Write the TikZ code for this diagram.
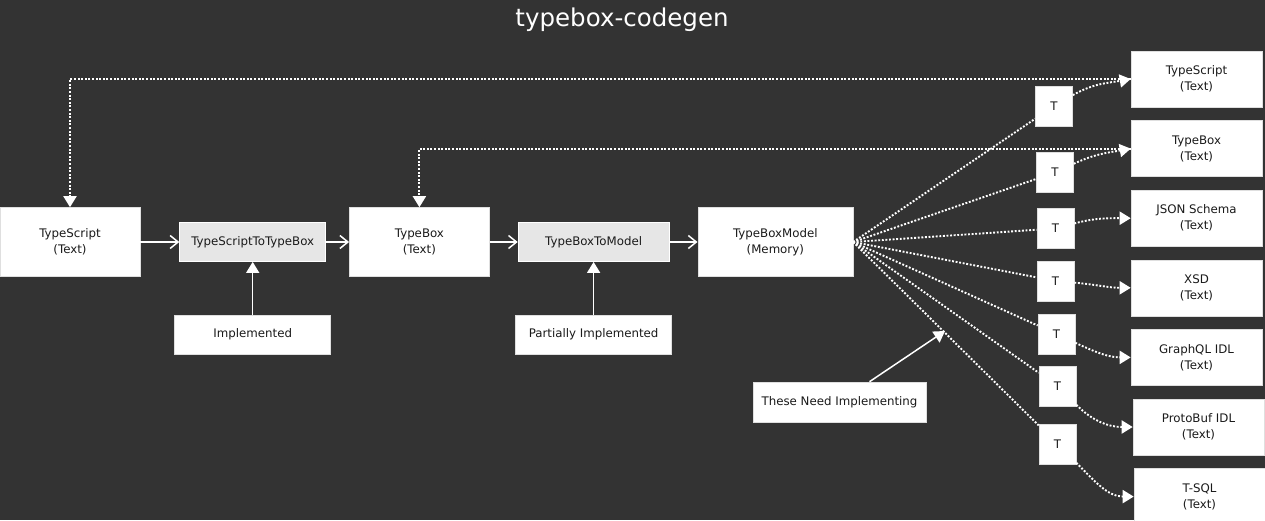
\documentclass[tikz,border=0pt]{standalone}
\usepackage{fontspec}
\setmainfont{DejaVu Sans}
\usepackage{tikz}
\usetikzlibrary{positioning,arrows.meta}
\definecolor{canvas}{HTML}{333333}
\definecolor{passgray}{HTML}{E6E6E6}
\definecolor{ink}{HTML}{1A1A1A}

\begin{document}
\begin{tikzpicture}[x=1pt,y=1pt,>={Triangle[length=11pt,width=13pt]},node distance=13pt,font=\fontsize{11.8}{16}\selectfont]
\tikzstyle{store} = [rectangle, draw=gray!25, fill=white, text=ink, align=center, inner sep=0pt, line width=0.6pt, minimum width=140pt, minimum height=69pt]
\tikzstyle{pass} = [rectangle, draw=white, fill=passgray, text=ink, inner sep=0pt, line width=0.8pt, minimum width=146pt, minimum height=39pt]
\tikzstyle{tag} = [rectangle, draw=gray!25, fill=white, text=ink, inner sep=0pt, line width=0.6pt, minimum width=156pt, minimum height=39pt]
\tikzstyle{target} = [store, minimum width=131pt, minimum height=56pt]
\tikzstyle{xform} = [rectangle, draw=gray!25, fill=white, text=ink, inner sep=0pt, line width=0.6pt, minimum width=37pt, minimum height=40pt]
\tikzstyle{flow} = [-{Straight Barb[length=8pt,width=13pt]}, white, line width=1.5pt]
\tikzstyle{note} = [->, white, line width=1.5pt]
\tikzstyle{link} = [white, line width=1.9pt, dash pattern=on 1.9pt off 1.7pt]
\tikzstyle{back} = [link, ->]
\fill[canvas] (0,0) rectangle (1265,520);
\useasboundingbox (0,0) rectangle (1265,520);
\node[text=white, font=\fontsize{24.5}{28}\selectfont] (head) at (622,500) {typebox-codegen};
% pipeline
\node[store] (TS) at (70,278) {TypeScript\\(Text)};
\node[pass][right=39pt of TS](TS2TB){TypeScriptToTypeBox};
\node[store][right=23pt of TS2TB](TB){TypeBox\\(Text)};
\node[pass, minimum width=151pt][right=28pt of TB](TB2M){TypeBoxToModel};
\node[store, minimum width=155pt][right=28pt of TB2M](TBM){TypeBoxModel\\(Memory)};
\node[tag][below=53pt of TS2TB](Impl){Implemented};
\node[tag][below=53pt of TB2M](Part){Partially Implemented};
\node[tag, minimum width=173pt, minimum height=40pt] (Need) at (839.5,118){These Need Implementing};
\coordinate (fan) at (945,189);
% outputs
\node[target] (R1) at (1196.5,441) {TypeScript\\(Text)};
\node[target][below=of R1](R2){TypeBox\\(Text)};
\node[target][below=of R2](R3){JSON Schema\\(Text)};
\node[target][below=of R3](R4){XSD\\(Text)};
\node[target][below=of R4](R5){GraphQL IDL\\(Text)};
\node[target][below=of R5, xshift=2pt](R6){ProtoBuf IDL\\(Text)};
\node[target][below=of R6, xshift=1pt](R7){T-SQL\\(Text)};
\node[xform] (T1) at (1054,414){T};
\node[xform] (T2) at (1055,347.5){T};
\node[xform] (T3) at (1055.5,291.5){T};
\node[xform] (T4) at (1055.5,239){T};
\node[xform] (T5) at (1056.5,186){T};
\node[xform] (T6) at (1057.5,134){T};
\node[xform] (T7) at (1057.5,76){T};
\path (TS) edge[flow] (TS2TB)
      (TS2TB) edge[flow] (TB)
      (TB) edge[flow] (TB2M)
      (TB2M) edge[flow] (TBM)
      (Impl) edge[note] (TS2TB)
      (Part) edge[note] (TB2M)
      ([xshift=30pt]Need.north) edge[note] (fan);
\path (TBM.east) edge[link] (T1)
                 edge[link] (T2)
                 edge[link] (T3)
                 edge[link] (T4)
                 edge[link] (T5)
                 edge[link] (T6)
                 edge[link] (T7);
\path (T1) edge[back, out=30, in=190] (R1.west)
      (T2) edge[back, out=25, in=190] (R2.west)
      (T3) edge[back, out=15, in=180] (R3.west)
      (T4) edge[back, out=-5, in=180] (R4.west)
      (T5) edge[back, out=-25, in=180] (R5.west)
      (T6) edge[back, out=-45, in=180] (R6.west)
      (T7) edge[back, out=-45, in=180] (R7.west);
\draw[back] (R1.west) -| (TS.north);
\draw[back] (R2.west) -| (TB.north);
\end{tikzpicture}
\end{document}
